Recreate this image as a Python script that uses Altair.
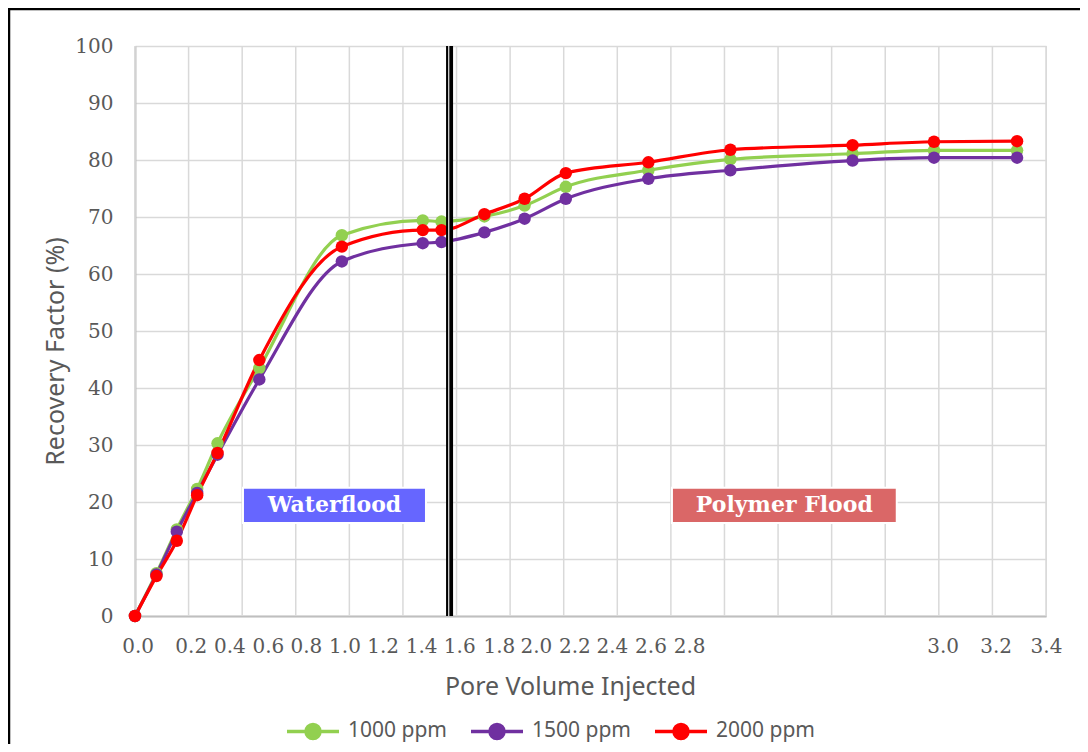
import altair as alt
import pandas as pd

# ---------------- data ----------------
pv = [0.0, 0.080, 0.156, 0.232, 0.308, 0.464, 0.772, 1.074, 1.144,
      1.304, 1.454, 1.608, 1.916, 2.222, 2.678, 2.982, 3.292]
rf_1000 = [0.0, 7.5, 15.2, 22.3, 30.3, 43.5, 66.8, 69.4, 69.2,
           70.1, 72.0, 75.3, 78.2, 80.1, 81.1, 81.7, 81.7]
rf_1500 = [0.0, 7.3, 14.8, 21.6, 28.3, 41.5, 62.2, 65.4, 65.6,
           67.3, 69.7, 73.2, 76.7, 78.2, 79.9, 80.4, 80.4]
rf_2000 = [0.0, 7.0, 13.2, 21.2, 28.6, 44.9, 64.8, 67.7, 67.7,
           70.5, 73.2, 77.7, 79.6, 81.8, 82.6, 83.2, 83.3]

series = ["1000 ppm", "1500 ppm", "2000 ppm"]
colors = ["#92D050", "#7030A0", "#FF0000"]

x_tick_labels = ["0.0", "0.2", "0.4", "0.6", "0.8", "1.0", "1.2", "1.4", "1.6",
                 "1.8", "2.0", "2.2", "2.4", "2.6", "2.8", "3.0", "3.2", "3.4"]
x_tick_pos = [0.01, 0.208, 0.352, 0.496, 0.638, 0.782, 0.924, 1.068, 1.210,
              1.358, 1.496, 1.640, 1.780, 1.924, 2.068, 3.014, 3.212, 3.4]
x_grid = [0.0, 0.2, 0.4, 0.6, 0.8, 1.0, 1.2, 1.4, 1.6, 1.8, 2.0,
          2.2, 2.4, 2.6, 2.8, 3.0, 3.2, 3.4]
y_ticks = [0, 10, 20, 30, 40, 50, 60, 70, 80, 90, 100]

flood_labels = ["Waterflood", "Polymer Flood"]
flood_x0 = [0.403, 2.004]
flood_x1 = [1.086, 2.843]
flood_y0 = [16.3, 16.3]
flood_y1 = [22.5, 22.5]
flood_colors = ["#6666FF", "#DA6767"]

separator_pv = [1.174]
separator_gap_pv = [1.171]

# ---------------- tables ----------------
rows = []
for name, vals in zip(series, [rf_1000, rf_1500, rf_2000]):
    for x, y in zip(pv, vals):
        rows.append({"pv": x, "rf": y, "series": name})
df = pd.DataFrame(rows)

grid_df = pd.DataFrame({"pv": x_grid})
box_df = pd.DataFrame({
    "label": flood_labels, "pv": flood_x0, "pv2": flood_x1,
    "rf": flood_y0, "rf2": flood_y1, "fill": flood_colors,
})
box_df["cx"] = (box_df["pv"] + box_df["pv2"]) / 2
box_df["cy"] = (box_df["rf"] + box_df["rf2"]) / 2
sep_df = pd.DataFrame({"pv": separator_pv})
gap_df = pd.DataFrame({"pv": separator_gap_pv})
one_df = pd.DataFrame({"a": [0]})

GREY = "#595959"
label_expr = "[" + ",".join(f"'{l}'" for l in x_tick_labels) + "][indexof([" + \
    ",".join(str(p) for p in x_tick_pos) + "], datum.value)]"

x_scale = alt.Scale(domain=[0, 3.4], nice=False, zero=False)
y_scale = alt.Scale(domain=[0, 100], nice=False)

x_axis = alt.Axis(
    values=x_tick_pos, labelExpr=label_expr, grid=False, ticks=False, tickSize=0,
    domainColor="#BFBFBF", domainWidth=2,
    labelFont="DejaVu Serif", labelFontSize=20, labelColor=GREY,
    labelPadding=30, labelBaseline="middle", labelOverlap=False, labelFlush=False,
    title="Pore Volume Injected", titleFont="Noto Sans", titleFontSize=25,
    titleFontWeight="normal", titleColor=GREY, titleX=435, titleY=70,
    titleBaseline="middle", titleAlign="center",
)
y_axis = alt.Axis(
    values=y_ticks, grid=True, gridColor="#D9D9D9", gridWidth=1.5,
    ticks=False, tickSize=0, domainColor="#BFBFBF", domainWidth=2,
    labelFont="DejaVu Serif", labelFontSize=20, labelColor=GREY, labelPadding=22,
    title="Recovery Factor (%)", titleFont="Noto Sans", titleFontSize=25,
    titleFontWeight="normal", titleColor=GREY, titleX=-80, titleY=305,
    titleAngle=270, titleBaseline="middle", titleAlign="center",
)

def X(field="pv"):
    return alt.X(f"{field}:Q", scale=x_scale, axis=x_axis, title="Pore Volume Injected")

def Y(field="rf"):
    return alt.Y(f"{field}:Q", scale=y_scale, axis=y_axis, title="Recovery Factor (%)")

symbol_path = ("M-1,0H1M0.27,0A0.27,0.27,0,1,1,-0.27,0A0.27,0.27,0,1,1,0.27,0Z")
legend = alt.Legend(
    orient="none", legendX=150, legendY=657, direction="horizontal", title=None,
    symbolType=symbol_path, symbolSize=2704, symbolStrokeWidth=3.5,
    labelFont="Noto Sans", labelFontSize=21, labelColor=GREY,
    labelOffset=7, columnPadding=17, symbolOpacity=1,
)
color = alt.Color("series:N", scale=alt.Scale(domain=series, range=colors), legend=legend)

grid = alt.Chart(grid_df).mark_rule(color="#D9D9D9", strokeWidth=1.5).encode(x=X())

boxes = alt.Chart(box_df).mark_rect(stroke="white", strokeWidth=2).encode(
    x=X(), x2="pv2:Q", y=Y(), y2="rf2:Q", fill=alt.Fill("fill:N", scale=None)
)
box_text = alt.Chart(box_df).mark_text(
    font="DejaVu Serif", fontWeight="bold", fontSize=22, color="white"
).encode(x=alt.X("cx:Q", scale=x_scale, axis=x_axis, title="Pore Volume Injected"),
         y=alt.Y("cy:Q", scale=y_scale, axis=y_axis, title="Recovery Factor (%)"),
         text="label:N")

lines = alt.Chart(df).mark_line(strokeWidth=3.2, interpolate="monotone").encode(
    x=X(), y=Y(), color=color, detail="series:N"
)
points = alt.Chart(df).mark_circle(size=155, opacity=1).encode(
    x=X(), y=Y(), color=color
)

sep = alt.Chart(sep_df).mark_rule(color="black", strokeWidth=7).encode(x=X())
gap = alt.Chart(gap_df).mark_rule(color="white", strokeWidth=1.1).encode(x=X())

frame_top = alt.Chart(one_df).mark_rule(color="black", strokeWidth=2.5).encode(
    x=alt.value(-127), x2=alt.value(945), y=alt.value(-37)
)
frame_left = alt.Chart(one_df).mark_rule(color="black", strokeWidth=2.5).encode(
    x=alt.value(-126), y=alt.value(-38), y2=alt.value(698)
)

chart = alt.layer(
    grid, boxes, box_text, lines, points, sep, gap, frame_top, frame_left
).properties(
    width=911, height=570,
    autosize=alt.AutoSizeParams(type="none"),
    padding={"left": 127, "top": 38, "right": 34, "bottom": 128},
).configure_view(stroke=None).configure(background="white")

chart.save("out.html", embed_options={"renderer": "svg", "actions": False})
